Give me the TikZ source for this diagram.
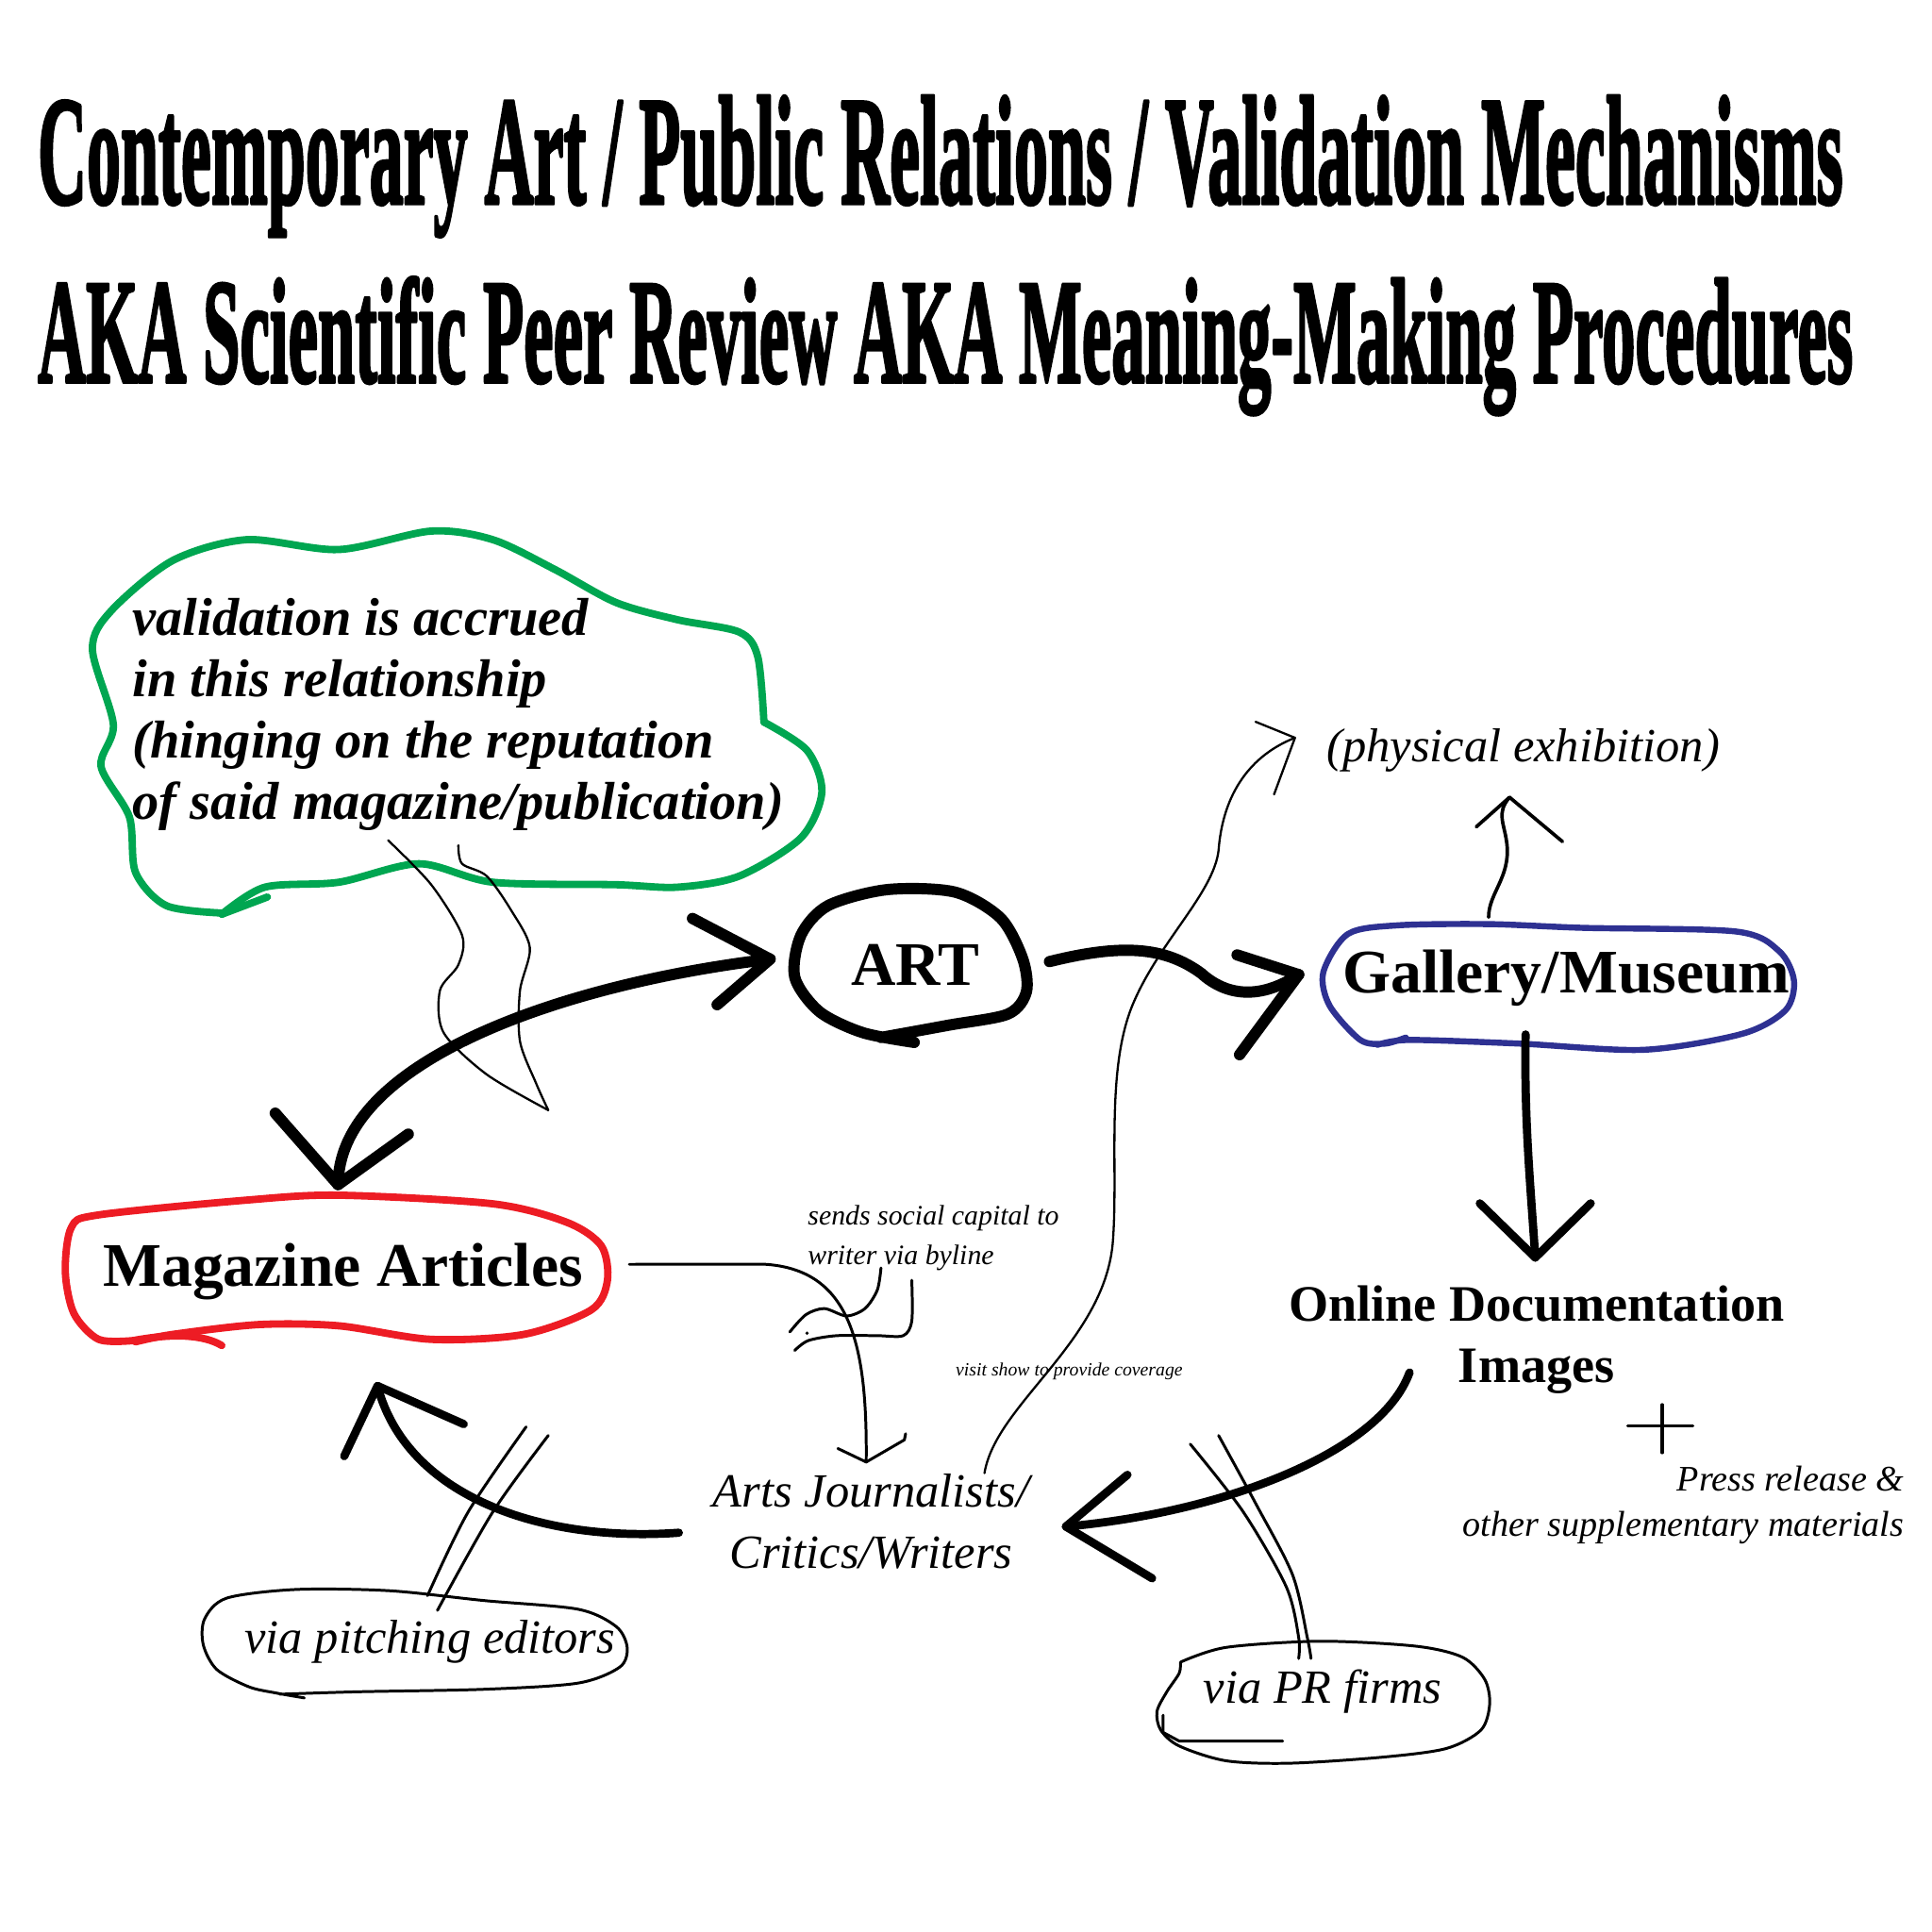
\documentclass[tikz,border=0pt]{standalone}
\usepackage{fontspec}
\usepackage{graphicx}
\setmainfont{Liberation Serif}
\newfontfamily\headfont[BoldFeatures={FakeBold=2.6}]{Liberation Serif}
\definecolor{bubblegreen}{RGB}{0,166,81}
\definecolor{markred}{RGB}{237,28,36}
\definecolor{inkblue}{RGB}{46,49,146}

\begin{document}
\begin{tikzpicture}[x=0.1mm, y=-0.1mm, line cap=round, line join=round,
  heavy/.style={line width=2.6pt},
  medium/.style={line width=1.9pt},
  fine/.style={line width=0.5pt},
  pen/.style={line width=0.65pt},
  bubble/.style={draw=bubblegreen, line width=1.7pt},
  headline/.style={inner sep=0, anchor=base west},
  boldtext/.style={inner sep=0, font=\fontsize{14.3}{17}\selectfont\bfseries},
  notetext/.style={inner sep=0, align=left, font=\fontsize{12.3}{14.2}\selectfont\bfseries\itshape},
  handtext/.style={inner sep=0, font=\fontsize{11}{14.2}\selectfont\itshape},
  tinytext/.style={inner sep=0, font=\itshape}]

\fill[white] (0,0) rectangle (1568,1568);
\useasboundingbox (0,0) rectangle (1568,1568);

% title
\node[headline] (title1) at (30,165)
  {\resizebox{14.65cm}{0.87cm}{\headfont\bfseries Contemporary Art / Public Relations / Validation Mechanisms}};
\node[headline] (title2) at (30,310)
  {\resizebox{14.73cm}{0.85cm}{\headfont\bfseries AKA Scientific Peer Review AKA Meaning-Making Procedures}};

% nodes (multi-line ones sit on their last line)
\node[notetext, anchor=base west] (note) at (107,665)
  {validation is accrued\\in this relationship\\(hinging on the reputation\\of said magazine/publication)};
\node[boldtext, anchor=base west] (art) at (690,800) {ART};
\node[boldtext, anchor=base west] (gallery) at (1089,806) {Gallery/Museum};
\node[handtext, anchor=base west] (exhibit) at (1076,618) {(physical exhibition)};
\node[boldtext, anchor=base west] (magazine) at (83,1044) {Magazine Articles};
\node[inner sep=0, align=center, anchor=base, font=\fontsize{11.8}{14.2}\selectfont\bfseries]
  (docs) at (1247,1122) {Online Documentation\\Images};
\node[inner sep=0, align=right, anchor=base east, font=\fontsize{8.3}{10.5}\selectfont\itshape]
  (press) at (1546,1247) {Press release \&\\other supplementary materials};
\node[inner sep=0, align=left, anchor=base west, font=\fontsize{6.5}{9.1}\selectfont\itshape]
  (byline) at (655,1026) {sends social capital to\\writer via byline};
\node[tinytext, anchor=base west, font=\fontsize{4.3}{5}\selectfont\itshape] (coverage) at (775,1117)
  {visit show to provide coverage};
\node[handtext, align=center, anchor=base] (writers) at (707,1273) {Arts Journalists/\\Critics/Writers};
\node[handtext, anchor=base west] (pitching) at (198,1342) {via pitching editors};
\node[handtext, anchor=base west] (prfirms) at (976,1382) {via PR firms};

% arrow ends
\coordinate (art-in) at ([shift={(-65,-5)}]art.west);
\coordinate (art-out) at ([shift={(56,-3)}]art.east);
\coordinate (mag-in) at ([shift={(-4,-47)}]magazine.north);
\coordinate (mag-back) at ([shift={(28,69)}]magazine.south);
\coordinate (mag-out) at ([shift={(37,-6)}]magazine.east);
\coordinate (gal-in) at ([shift={(-35,-3)}]gallery.west);
\coordinate (gal-up) at ([shift={(-63,-26)}]gallery.north);
\coordinate (gal-down) at ([shift={(-33,22)}]gallery.south);
\coordinate (exh-in) at ([shift={(-11,20)}]exhibit.south);
\coordinate (exh-side) at ([shift={(-25,-10)}]exhibit.west);
\coordinate (docs-in) at ([shift={(-1,-22)}]docs.north);
\coordinate (docs-out) at ([shift={(-103,-18)}]docs.south);
\coordinate (wr-in) at ([shift={(29,4)}]writers.east);
\coordinate (wr-top) at ([shift={(-4,-9)}]writers.north);
\coordinate (wr-out) at ([shift={(-27,9)}]writers.west);
\coordinate (wr-up) at ([shift={(92,0)}]writers.north);

% hand drawn outlines
\draw[bubble] plot[smooth] coordinates {(620,586) (615,533) (600,513) (550,503) (500,489)
  (450,462) (400,438) (350,431) (275,446) (200,438) (140,455) (90,496) (75,527) (92,588)
  (82,622) (105,663) (110,708) (135,735) (180,741)};
\draw[bubble] plot[smooth] coordinates {(620,586) (655,609) (667,643) (650,680) (600,711)
  (550,720) (500,718) (400,716) (340,701) (275,716) (215,720) (180,742)};
\draw[bubble] (180,742) -- (217,728);
\draw[fine] plot[smooth] coordinates {(315,682) (350,718) (375,759) (372,783) (357,804)
  (360,838) (395,872) (445,901)};
\draw[fine] plot[smooth] coordinates {(372,686) (375,701) (395,711) (415,739) (430,769)
  (422,804) (422,845) (435,879) (445,901)};

\draw[heavy] plot[smooth] coordinates {(742,846) (700,838) (665,821) (645,793) (650,759)
  (672,735) (720,722) (775,724) (812,745) (830,778) (833,805) (818,823) (770,832) (715,842)};

\draw[inkblue, line width=1.4pt] plot[smooth] coordinates {(1141,842) (1124,847) (1104,844)
  (1079,816) (1074,789) (1094,758) (1134,751) (1209,750) (1284,753) (1409,756) (1444,772)
  (1456,796) (1449,820) (1414,839) (1334,852) (1234,847) (1144,844) (1118,848)};

\draw[markred, line width=1.7pt] plot[smooth] coordinates {(108,1088) (80,1087) (60,1066)
  (53,1032) (58,996) (80,986) (200,974) (275,970) (400,977) (460,992) (488,1011) (493,1039)
  (480,1063) (425,1083) (350,1087) (275,1076) (210,1075) (140,1083) (110,1089)};
\draw[markred, line width=1.7pt] (108,1088) .. controls (140,1082) and (165,1083) .. (180,1092);

\draw[pen] plot[smooth] coordinates {(247,1378) (224,1374) (202,1369) (176,1355) (165,1335)
  (166,1314) (184,1297) (240,1290) (316,1291) (393,1299) (469,1306) (500,1320) (509,1337)
  (503,1353) (469,1366) (393,1371) (291,1373) (227,1375)};
\draw[pen] plot[smooth] coordinates {(347,1295) (380,1227) (427,1158)};
\draw[pen] plot[smooth] coordinates {(355,1307) (400,1227) (445,1165)};

\draw[pen] plot[smooth] coordinates {(958,1349) (995,1337) (1072,1332) (1149,1336) (1187,1345)
  (1205,1363) (1209,1383) (1202,1404) (1174,1419) (1123,1426) (1047,1431) (995,1429)
  (957,1417) (942,1404) (939,1389) (947,1373) (957,1358) (958,1349)};
\draw[pen] (944,1392) -- (944,1406) -- (957,1413) -- (1041,1413);
\draw[pen] plot[smooth] coordinates {(966,1172) (1009,1227) (1044,1288) (1054,1329) (1054,1346)};
\draw[pen] plot[smooth] coordinates {(989,1165) (1019,1220) (1049,1278) (1061,1329) (1064,1346)};

\draw[pen] plot[smooth] coordinates {(641,1081) (654,1067) (669,1062) (687,1068) (702,1062)
  (712,1047) (715,1029)};
\draw[pen] plot[smooth] coordinates {(645,1096) (656,1088) (679,1084) (712,1084) (733,1084)
  (740,1072) (740,1039)};
\fill (655,1082) circle (1.5);

\draw[line width=0.7pt] (1321,1157) -- (1374,1157) (1349,1140) -- (1349,1179);

% connectors
\draw[heavy] (art-in) .. controls (460,798) and (275,860) .. (mag-in);
\draw[heavy] (art-in) ++(-63,-33) -- (art-in) -- ++(-43,37);
\draw[heavy] (mag-in) ++(-51,-58) -- (mag-in) -- ++(57,-41);

\draw[heavy] (art-out) .. controls (910,766) and (945,768) .. (975,790)
  .. controls (995,808) and (1022,812) .. (gal-in);
\draw[heavy] (gal-in) ++(-50,-16) -- (gal-in) -- ++(-48,65);

\draw[line width=0.8pt] (gal-up) .. controls (1208,725) and (1226,712) .. (1223,685)
  .. controls (1221,668) and (1214,660) .. (exh-in);
\draw[line width=0.8pt] (exh-in) ++(-27,24) -- (exh-in) -- ++(43,36);

\draw[medium] (gal-down) .. controls (1237,910) and (1242,960) .. (docs-in);
\draw[medium] (docs-in) ++(-45,-44) -- (docs-in) -- ++(45,-44);

\draw[medium] (docs-out) .. controls (1120,1180) and (990,1228) .. (wr-in);
\draw[medium] (wr-in) ++(50,-42) -- (wr-in) -- ++(70,42);

\draw[medium] (wr-out) .. controls (440,1252) and (330,1215) .. (mag-back);
\draw[medium] (mag-back) ++(-27,57) -- (mag-back) -- ++(70,31);

\draw[pen] (mag-out) -- (620,1026) .. controls (690,1030) and (704,1090) .. (wr-top);
\draw[pen] (wr-top) ++(-23,-11) -- (wr-top) -- ++(31,-18) -- ++(1,-5);

\draw[fine] (wr-up) .. controls (808,1140) and (895,1090) .. (903,1010)
  .. controls (908,950) and (897,870) .. (919,816)
  .. controls (940,765) and (985,725) .. (989,690)
  .. controls (992,650) and (1010,615) .. (exh-side);
\draw[fine] (exh-side) ++(-32,-13) -- (exh-side) -- ++(-17,46);
\end{tikzpicture}
\end{document}
